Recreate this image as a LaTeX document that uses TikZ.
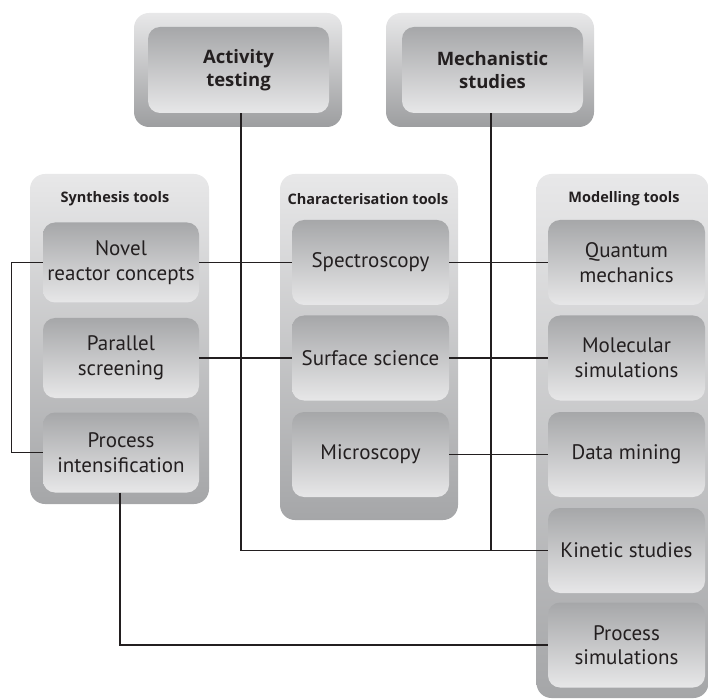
\documentclass[tikz,border=0pt]{standalone}
\usepackage{fontspec}
\setmainfont{PT Sans}
\newfontfamily\hfont{Open Sans}
\definecolor{txt}{HTML}{231F20}
\definecolor{glight}{HTML}{E8E8E9}
\definecolor{gdark}{HTML}{A5A6A8}
\definecolor{ilight}{HTML}{E7E7E8}
\definecolor{idark}{HTML}{A6A7A9}
\begin{document}
\begin{tikzpicture}[x=1pt,y=-1pt,
  colbox/.style={rounded corners=15pt, top color=glight, bottom color=gdark, minimum height=346pt, inner sep=0pt, draw=none},
  topbox/.style={rounded corners=15pt, top color=glight, bottom color=gdark!95!black, minimum width=208pt, minimum height=114pt, inner sep=0pt, draw=none},
  itembox/.style={rounded corners=12pt, top color=idark, bottom color=ilight, minimum width=157pt, minimum height=85pt, inner sep=0pt, align=center, text=txt, font=\fontsize{21}{24.5}\selectfont},
  headbox/.style={rounded corners=12pt, top color=idark, bottom color=ilight, minimum width=181pt, minimum height=86pt, inner sep=0pt, align=center, text=txt, font=\hfont\bfseries\fontsize{18.5}{23.5}\selectfont},
  coltitle/.style={text=txt, font=\hfont\bfseries\fontsize{14.5}{17}\selectfont, inner sep=0pt},
  link/.style={draw=txt, line width=1.1pt}]
\useasboundingbox (0,0) rectangle (709,700);
% top boxes
\node[topbox] (actouter) at (238,70) {};
\node[headbox] (act) at (238.5,70) {Activity\\testing};
\node[topbox] (mechouter) at (490,70) {};
\node[headbox] (mech) at (492.5,70) {Mechanistic\\studies};
% columns
\node[colbox, minimum width=179pt, minimum height=330pt] (synth) at (119.5,339) {};
\node[colbox, minimum width=178pt] (charac) at (369,347) {};
\node[colbox, minimum width=172pt, minimum height=524pt] (model) at (622.5,436) {};
\node[coltitle] (synthT) at (115,199) {Synthesis tools};
\node[coltitle] (characT) at (368,199) {Characterisation tools};
\node[coltitle] (modelT) at (624,199) {Modelling tools};
% synthesis items
\node[itembox, minimum width=156pt, minimum height=80pt] (novel) at (121,262.5) {Novel\\reactor concepts};
\node[itembox, minimum width=156pt, minimum height=80pt] (par) at (121,358) {Parallel\\screening};
\node[itembox, minimum width=156pt, minimum height=80pt] (procint) at (121,452.5) {Process\\intensification};
% characterisation items
\node[itembox] (spec) at (370.5,262.5) {Spectroscopy};
\node[itembox] (surf) at (370.5,358) {Surface science};
\node[itembox] (micro) at (370.5,454.5) {Microscopy};
% modelling items
\node[itembox] (quant) at (626.5,262.5) {Quantum\\mechanics};
\node[itembox] (molec) at (626.5,358) {Molecular\\simulations};
\node[itembox] (data) at (626.5,454.5) {Data mining};
\node[itembox] (kin) at (626.5,550.5) {Kinetic studies};
\node[itembox] (psim) at (626.5,645) {Process\\simulations};
% connectors
\draw[link] (novel.west) -- ++(-31,0) |- (procint.west);
\draw[link] (novel.east) -- (spec.west);
\draw[link] (spec.east) -- (quant.west);
\draw[link] (par.east) -- (surf.west);
\draw[link] (surf.east) -- (molec.west);
\draw[link] (micro.east) -- (data.west);
\draw[link] ([xshift=2.5pt]act.south) |- (kin.west);
\draw[link] ([xshift=-1.5pt]mech.south) |- (kin.west);
\draw[link] ([xshift=-1pt]procint.south) |- (psim.west);
\end{tikzpicture}
\end{document}
